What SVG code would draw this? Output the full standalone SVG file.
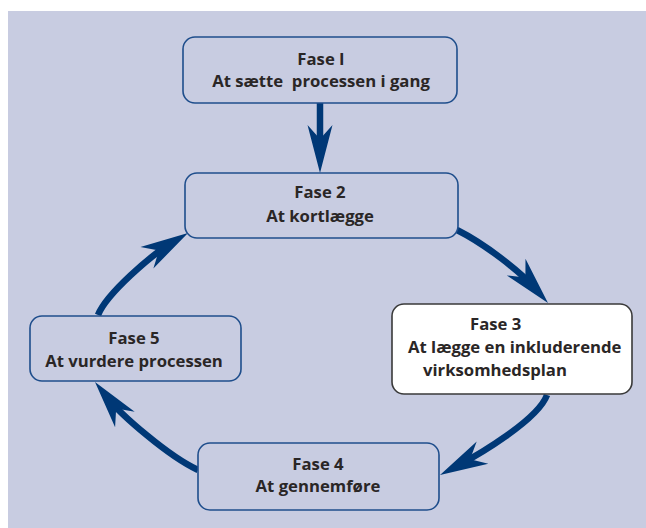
<svg xmlns="http://www.w3.org/2000/svg" width="646" height="528" viewBox="0 0 646 528">
  <style>
    .box { fill: #c8cce1; stroke: #1f4e8c; stroke-width: 1.6; }
    .box-hl { fill: #ffffff; stroke: #3a3a3a; stroke-width: 1.6; }
    .lbl { font-family: "Open Sans", "Noto Sans", sans-serif; font-weight: 700; font-size: 16.7px; fill: #2a2626; }
    .mid { text-anchor: middle; }
    .flow { fill: none; stroke: #003876; stroke-width: 6.5; }
    .head { fill: #003876; }
  </style>
  <defs>
    <!-- barbed arrowhead, tip at origin, pointing along +x -->
    <path id="arrowhead" d="M0,0 L-48,-12.5 L-34,0 L-48,12.5 Z"/>
  </defs>

  <rect x="8" y="11" width="638" height="517" fill="#c8cce1"/>

  <g id="connectors">
    <path class="flow" d="M320,103 L320,145"/>
    <use href="#arrowhead" class="head" transform="translate(320,173) rotate(90)"/>

    <path class="flow" d="M457,230 C487,245 521.4,273 534.7,288"/>
    <use href="#arrowhead" class="head" transform="translate(548,303) rotate(48.4)"/>

    <path class="flow" d="M547,395 C538,420 477.2,455.5 457.7,465.7"/>
    <use href="#arrowhead" class="head" transform="translate(440,475) rotate(152.3)"/>

    <path class="flow" d="M198,470 C168,456 121.1,414.9 107.4,397.7"/>
    <use href="#arrowhead" class="head" transform="translate(95,382) rotate(231.5)"/>

    <path class="flow" d="M98,315 C107,293 152.1,254.7 170.9,243.3"/>
    <use href="#arrowhead" class="head" transform="translate(188,233) rotate(-31.1)"/>
  </g>

  <g id="fase1">
    <rect class="box" x="183" y="37" width="274" height="66" rx="12"/>
    <text class="lbl mid" x="321" y="65">Fase I</text>
    <text class="lbl mid" x="321" y="87" xml:space="preserve">At sætte  processen i gang</text>
  </g>

  <g id="fase2">
    <rect class="box" x="185" y="173" width="273" height="65" rx="12"/>
    <text class="lbl mid" x="320" y="198">Fase 2</text>
    <text class="lbl mid" x="320" y="222">At kortlægge</text>
  </g>

  <g id="fase3">
    <rect class="box-hl" x="392" y="304" width="240" height="90" rx="12"/>
    <text class="lbl" x="470" y="330">Fase 3</text>
    <text class="lbl" x="408" y="353">At lægge en inkluderende</text>
    <text class="lbl" x="423" y="376">virksomhedsplan</text>
  </g>

  <g id="fase4">
    <rect class="box" x="198" y="443" width="241" height="67" rx="12"/>
    <text class="lbl mid" x="318" y="470">Fase 4</text>
    <text class="lbl mid" x="318" y="492">At gennemføre</text>
  </g>

  <g id="fase5">
    <rect class="box" x="30" y="316" width="211" height="65" rx="12"/>
    <text class="lbl mid" x="134" y="344">Fase 5</text>
    <text class="lbl mid" x="134" y="367">At vurdere processen</text>
  </g>
</svg>
